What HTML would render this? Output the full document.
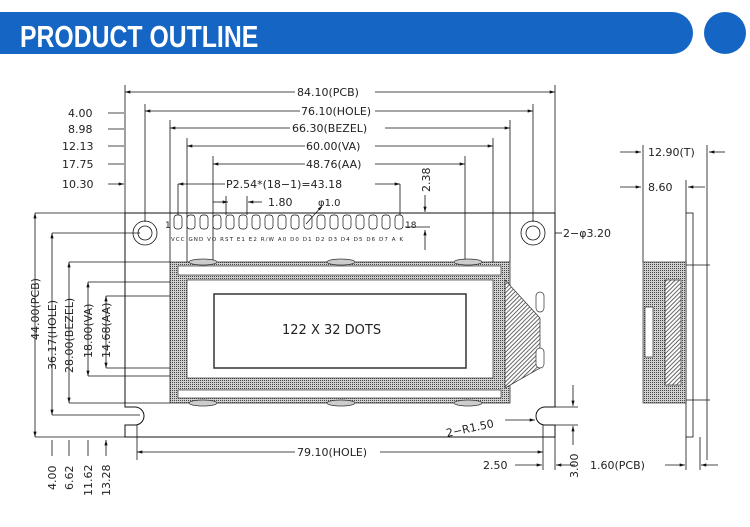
<!DOCTYPE html>
<html><head><meta charset="utf-8"><style>
body{margin:0;background:#fff;width:750px;height:522px;overflow:hidden}
text{font-family:"DejaVu Sans","Liberation Sans",sans-serif;font-size:11px;fill:#222}
.s{font-size:5.5px}
</style></head><body>
<svg width="750" height="522" viewBox="0 0 750 522" xmlns="http://www.w3.org/2000/svg">
<defs>
<pattern id="d" width="2" height="2" patternUnits="userSpaceOnUse"><rect width="2" height="2" fill="#d0d0d0"/><rect width="1" height="1" fill="#444"/></pattern>
<pattern id="h" width="3" height="3" patternUnits="userSpaceOnUse" patternTransform="rotate(45)"><rect width="3" height="3" fill="#fff"/><rect width="1" height="3" fill="#666"/></pattern>
<marker id="a" viewBox="0 0 10 6" refX="10" refY="3" markerWidth="9" markerHeight="4" orient="auto-start-reverse"><path d="M0,0L10,3L0,6z" fill="#111"/></marker>
</defs>
<path d="M0,12H672A21,21 0 0 1 672,54H0z" fill="#1565c4"/>
<circle cx="725" cy="33" r="21" fill="#1565c4"/>
<text x="25" y="47" transform="scale(0.8,1)" style="font-family:'Liberation Sans',sans-serif;font-weight:bold;font-size:31px;fill:#fff">PRODUCT OUTLINE</text>

<g stroke="#111" stroke-width="0.8" fill="none">
<path d="M125,85V213M145,104V222M170,120V262M187,138V277M213,156V295M465,156V295M493,138V277M510,120V262M533,104V222M555,85V213"/>
<path d="M125,92H295M375,92H555" marker-start="url(#a)" marker-end="url(#a)"/>
<path d="M145,111H300M375,111H533" marker-start="url(#a)" marker-end="url(#a)"/>
<path d="M170,128H290M385,128H510" marker-start="url(#a)" marker-end="url(#a)"/>
<path d="M187,146H305M375,146H493" marker-start="url(#a)" marker-end="url(#a)"/>
<path d="M213,164H305M375,164H465" marker-start="url(#a)" marker-end="url(#a)"/>
<path d="M178,184H225M375,184H400" marker-start="url(#a)" marker-end="url(#a)"/>
<path d="M178,184V215M400,184V215"/>
<path d="M213,202H228" marker-end="url(#a)"/><path d="M262,202H248" marker-end="url(#a)"/>
<path d="M226,196V215M247,196V215"/>
<path d="M108,113H124M108,129H124M108,146H124M108,164H124M108,184H124" marker-end="url(#a)"/>
<path d="M425,195V212" marker-end="url(#a)"/><path d="M425,250V230" marker-end="url(#a)"/>
<path d="M405,227H430"/>
<path d="M125,213H555V407H545A9,9 0 0 0 545,425H555V437H125V425H135A9,9 0 0 0 135,407H125Z" stroke-width="1"/>
<path d="M35,213H125M52,233H140M69,262H170M88,282H187M106,296H213M88,376H187M106,368H213M52,415H140"/>
<path d="M35,213V437" marker-start="url(#a)" marker-end="url(#a)"/>
<path d="M52,233V415" marker-start="url(#a)" marker-end="url(#a)"/>
<path d="M69,262V403" marker-start="url(#a)" marker-end="url(#a)"/>
<path d="M88,282V376" marker-start="url(#a)" marker-end="url(#a)"/>
<path d="M106,296V368" marker-start="url(#a)" marker-end="url(#a)"/>
<path d="M35,437H125M69,403H170"/>
<path d="M52,456V440M69,456V440M88,456V440M106,456V440" marker-end="url(#a)"/>
<circle cx="145" cy="233" r="12"/><circle cx="145" cy="233" r="7"/>
<circle cx="533" cy="233" r="12"/><circle cx="533" cy="233" r="7"/>
<path d="M555,233H562" />
<path d="M137,425V460M543,425V470M555,437V470"/>
<path d="M137,452H295M380,452H543" marker-start="url(#a)" marker-end="url(#a)"/>
<path d="M515,465H542" marker-end="url(#a)"/><path d="M575,465H556" marker-end="url(#a)"/>
<path d="M573,385V406" marker-end="url(#a)"/><path d="M573,445V426" marker-end="url(#a)"/>
<path d="M545,407H578M545,425H578"/>
<path d="M505,420H535" marker-end="url(#a)"/>
</g>
<g stroke="#111" stroke-width="0.7" fill="#fff">
<rect x="174" y="215" width="8" height="14" rx="3"/><rect x="187" y="215" width="8" height="14" rx="3"/><rect x="200" y="215" width="8" height="14" rx="3"/><rect x="213" y="215" width="8" height="14" rx="3"/><rect x="226" y="215" width="8" height="14" rx="3"/><rect x="239" y="215" width="8" height="14" rx="3"/><rect x="252" y="215" width="8" height="14" rx="3"/><rect x="265" y="215" width="8" height="14" rx="3"/><rect x="278" y="215" width="8" height="14" rx="3"/><rect x="291" y="215" width="8" height="14" rx="3"/><rect x="304" y="215" width="8" height="14" rx="3"/><rect x="317" y="215" width="8" height="14" rx="3"/><rect x="330" y="215" width="8" height="14" rx="3"/><rect x="343" y="215" width="8" height="14" rx="3"/><rect x="356" y="215" width="8" height="14" rx="3"/><rect x="369" y="215" width="8" height="14" rx="3"/><rect x="382" y="215" width="8" height="14" rx="3"/><rect x="395" y="215" width="8" height="14" rx="3"/>
</g>
<text class="s" x="171" y="241" textLength="232" lengthAdjust="spacing">VCC GND VO RST E1 E2 R/W A0 D0 D1 D2 D3 D4 D5 D6 D7 A K</text>
<text x="165" y="228" style="font-size:9px">1</text><text x="405" y="228" style="font-size:9px">18</text>
<path d="M306,224L322,206" stroke="#111" stroke-width="0.7" marker-end="url(#a)"/>
<rect x="170" y="262" width="340" height="141" fill="url(#d)" stroke="#333" stroke-width="0.8"/>
<rect x="178" y="266" width="323" height="9" fill="#fff" stroke="#333" stroke-width="0.7"/>
<rect x="178" y="390" width="323" height="8" fill="#fff" stroke="#333" stroke-width="0.7"/>
<rect x="187" y="280" width="306" height="98" fill="#fff" stroke="#333" stroke-width="0.7"/>
<rect x="214" y="294" width="252" height="74" fill="#fff" stroke="#333" stroke-width="1.5"/>
<path d="M505,280L540,318V368L505,388Z" fill="url(#h)" stroke="#333" stroke-width="0.7"/>
<g fill="#fff" stroke="#333" stroke-width="0.7">
<rect x="536" y="292" width="8" height="20" rx="4"/><rect x="536" y="348" width="8" height="20" rx="4"/>
<ellipse cx="203" cy="262" rx="14" ry="3" fill="#ccc"/><ellipse cx="341" cy="262" rx="14" ry="3" fill="#ccc"/><ellipse cx="468" cy="262" rx="14" ry="3" fill="#ccc"/>
<ellipse cx="203" cy="403" rx="14" ry="3" fill="#ccc"/><ellipse cx="341" cy="403" rx="14" ry="3" fill="#ccc"/><ellipse cx="468" cy="403" rx="14" ry="3" fill="#ccc"/>
</g>
<text x="282" y="334" style="font-size:13px">122 X 32 DOTS</text>
<g stroke="#111" stroke-width="0.8" fill="none">
<path d="M643,145V262M707,145V460M686,180V213M700,437V470M686,437V470"/>
<path d="M620,152H641" marker-end="url(#a)"/><path d="M725,152H709" marker-end="url(#a)"/>
<path d="M620,187H641" marker-end="url(#a)"/><path d="M705,187H688" marker-end="url(#a)"/>
<path d="M665,465H685" marker-end="url(#a)"/><path d="M718,465H701" marker-end="url(#a)"/>
<rect x="686" y="213" width="7" height="224" fill="#fff"/>
<path d="M686,265H710M686,400H710"/>
</g>
<rect x="643" y="262" width="43" height="141" fill="url(#d)" stroke="#333" stroke-width="0.7"/>
<rect x="665" y="280" width="16" height="105" fill="url(#h)" stroke="#333" stroke-width="0.7"/>
<rect x="645" y="307" width="8" height="50" fill="#fff" stroke="#333" stroke-width="0.7"/>
<g>
<text x="297" y="96">84.10(PCB)</text>
<text x="301" y="115">76.10(HOLE)</text>
<text x="292" y="132">66.30(BEZEL)</text>
<text x="306" y="150">60.00(VA)</text>
<text x="306" y="168">48.76(AA)</text>
<text x="226" y="188">P2.54*(18−1)=43.18</text>
<text x="268" y="206">1.80</text>
<text x="318" y="206" style="font-size:10px">φ1.0</text>
<text x="68" y="117">4.00</text><text x="68" y="133">8.98</text><text x="62" y="150">12.13</text><text x="62" y="168">17.75</text><text x="62" y="188">10.30</text>
<text x="563" y="237">2−φ3.20</text>
<text x="297" y="456">79.10(HOLE)</text>
<text x="483" y="469">2.50</text>
<text x="590" y="469">1.60(PCB)</text>
<text x="648" y="156">12.90(T)</text>
<text x="648" y="191">8.60</text>
<text x="447" y="437" transform="rotate(-12 447 437)">2−R1.50</text>
<text transform="translate(430,192) rotate(-90)">2.38</text>
<text transform="translate(578,478) rotate(-90)">3.00</text>
<text transform="translate(39,340) rotate(-90)">44.00(PCB)</text>
<text transform="translate(56,370) rotate(-90)">36.17(HOLE)</text>
<text transform="translate(73,373) rotate(-90)">28.00(BEZEL)</text>
<text transform="translate(92,358) rotate(-90)">18.00(VA)</text>
<text transform="translate(110,358) rotate(-90)">14.68(AA)</text>
<text transform="translate(56,490) rotate(-90)">4.00</text>
<text transform="translate(73,490) rotate(-90)">6.62</text>
<text transform="translate(92,496) rotate(-90)">11.62</text>
<text transform="translate(110,496) rotate(-90)">13.28</text>
</g>
</svg>
</body></html>
